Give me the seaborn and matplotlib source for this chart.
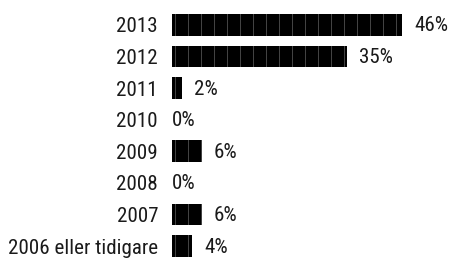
import matplotlib
matplotlib.use("Agg")
import matplotlib.pyplot as plt
import seaborn as sns
import pandas as pd

categories = ["2013", "2012", "2011", "2010", "2009", "2008", "2007", "2006 eller tidigare"]
values = [46, 35, 2, 0, 6, 0, 6, 4]
labels = ["46%", "35%", "2%", "0%", "6%", "0%", "6%", "4%"]

sns.set_theme(style="white")
plt.rcParams['font.family'] = ['Roboto Condensed', 'Liberation Sans', 'DejaVu Sans']
DPI = 156
PT = 72 / DPI
plt.rcParams['hatch.linewidth'] = 0.8 * PT

fig = plt.figure(figsize=(455 / DPI, 259 / DPI), dpi=DPI)
ax = fig.add_axes([172 / 455, 0, 1 - 172 / 455, 1])

df = pd.DataFrame({"cat": categories, "val": values})
sns.barplot(data=df, y="cat", x="val", orient="h", ax=ax, color="black",
            width=0.69, saturation=1, edgecolor="#6e6e6e", linewidth=0)
for p in ax.patches:
    p.set_hatch("||")
    p.set_edgecolor("#555555")
    p.set_linewidth(0)

fs = 21 * PT
for i, (v, lab) in enumerate(zip(values, labels)):
    off = 12 if v > 0 else 0
    ax.annotate(lab, xy=(v, i), xytext=(off * PT, -1 * PT), textcoords="offset points",
                ha="left", va="center", fontsize=fs, color="#1a1a1a")

ax.set_xlim(0, (455 - 172) / 5)
ax.set_ylim(7.405, -0.79)
ax.set_xlabel("")
ax.set_ylabel("")
ax.set_xticks([])
ax.tick_params(axis="y", length=0, pad=14 * PT, labelsize=fs, labelcolor="#1a1a1a")
sns.despine(ax=ax, left=True, bottom=True)

fig.savefig("out.png", dpi=DPI)
